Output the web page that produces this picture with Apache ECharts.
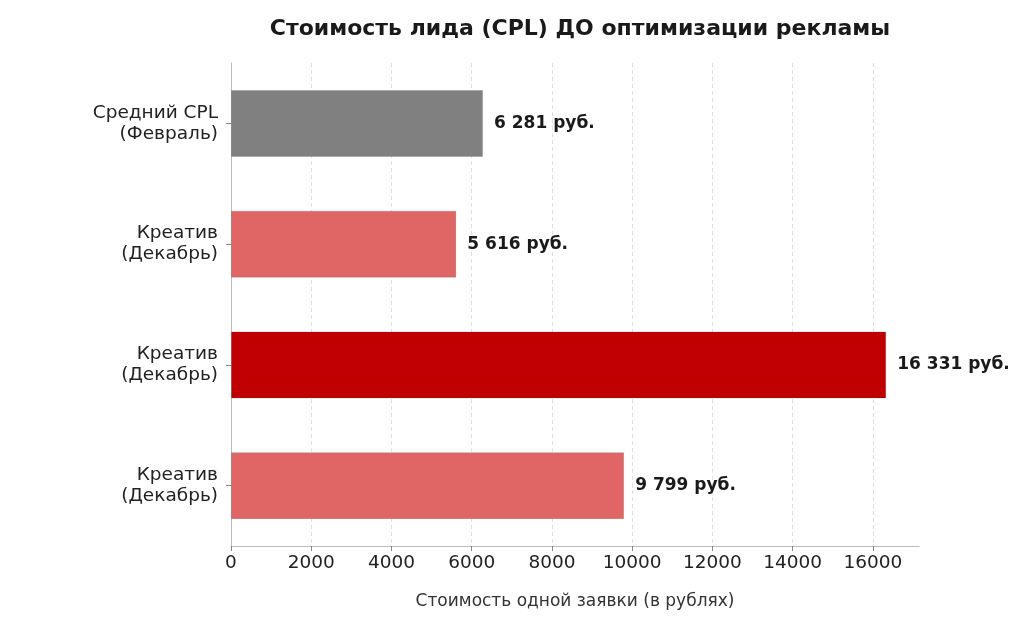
<!DOCTYPE html>
<html>
<head>
<meta charset="utf-8">
<script src="https://cdn.jsdelivr.net/npm/echarts@6/dist/echarts.min.js"></script>
<style>
  html, body { margin: 0; padding: 0; background: #fff; }
  #chart { width: 1024px; height: 626px; }
</style>
</head>
<body>
<div id="chart"></div>
<script>
// данные
const categories = ['Средний CPL\n(Февраль)', 'Креатив\n(Декабрь)', 'Креатив\n(Декабрь)', 'Креатив\n(Декабрь)'];
const values = [6281, 5616, 16331, 9799];
const barColors = ['#808080', '#e06666', '#c00000', '#e06666'];
const xTicks = [0, 2000, 4000, 6000, 8000, 10000, 12000, 14000, 16000];

const fmt = v => String(v).replace(/\B(?=(\d{3})+(?!\d))/g, ' ') + ' руб.';

const chart = echarts.init(document.getElementById('chart'));
chart.setOption({
    animation: false,
    textStyle: { fontFamily: 'DejaVu Sans' },
    title: {
        text: 'Стоимость лида (CPL) ДО оптимизации рекламы',
        left: 575,
        textAlign: 'center',
        top: 13,
        textStyle: { fontSize: 22, fontWeight: 'bold', color: '#1a1a1a', fontFamily: 'DejaVu Sans' }
    },
    grid: { left: 231, top: 63, width: 688, height: 483, containLabel: false },
    xAxis: {
        type: 'value',
        min: 0,
        max: 17148,
        name: 'Стоимость одной заявки (в рублях)',
        nameLocation: 'middle',
        nameGap: 47,
        nameTextStyle: { fontSize: 17, color: '#333', fontFamily: 'DejaVu Sans' },
        axisLine: { show: true, lineStyle: { color: '#bbbbbb', width: 1 } },
        axisTick: { show: true, length: 5, customValues: xTicks, lineStyle: { color: '#888' } },
        axisLabel: {
            customValues: xTicks,
            formatter: v => String(v),
            fontSize: 18.5, color: '#222', margin: 8, fontFamily: 'DejaVu Sans'
        },
        splitLine: { show: true, lineStyle: { color: '#e0e0e0', type: [4, 3], width: 1 } }
    },
    yAxis: {
        type: 'category',
        inverse: true,
        data: categories,
        axisLine: { show: true, lineStyle: { color: '#bbbbbb', width: 1 } },
        axisTick: { show: true, alignWithLabel: true, length: 5, lineStyle: { color: '#888' } },
        axisLabel: { fontSize: 18.5, color: '#222', margin: 13, lineHeight: 21, align: 'right', fontFamily: 'DejaVu Sans' },
        splitLine: { show: false }
    },
    series: [{
        type: 'bar',
        barWidth: 67,
        data: values.map((v, i) => ({
            value: v,
            itemStyle: { color: barColors[i], borderColor: 'rgba(0,0,0,0.12)', borderWidth: 1 }
        })),
        label: {
            show: true,
            position: 'right',
            distance: 11,
            formatter: p => fmt(p.value),
            fontSize: 17,
            fontWeight: 'bold',
            color: '#1a1a1a',
            fontFamily: 'DejaVu Sans'
        }
    }]
});
</script>
</body>
</html>
